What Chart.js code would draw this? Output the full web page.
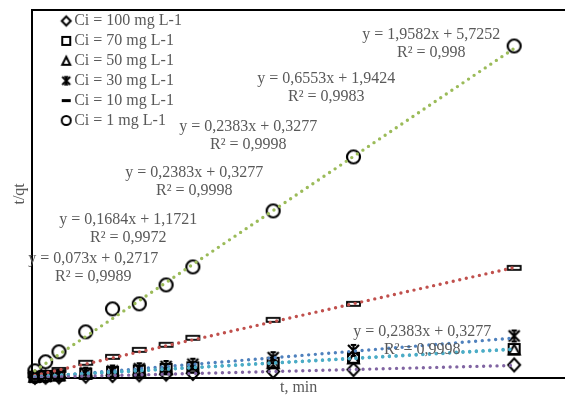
<!DOCTYPE html>
<html>
<head>
<meta charset="utf-8">
<script src="https://cdn.jsdelivr.net/npm/chart.js@4/dist/chart.umd.min.js"></script>
<style>
  body { margin: 0; background: #fff; }
  #chart { display: block; }
</style>
</head>
<body>
<canvas id="chart" width="565" height="399"></canvas>
<script>
// sampling times, min
const times = [1, 5, 10, 20, 30, 40, 50, 60, 90, 120, 180];

const seriesNames = [
  "Ci = 100 mg L-1",
  "Ci = 70 mg L-1",
  "Ci = 50 mg L-1",
  "Ci = 30 mg L-1",
  "Ci = 10 mg L-1",
  "Ci = 1 mg L-1"
];

// t/qt
const ci100 = [0.4, 0.7, 1.0, 1.8, 2.5, 3.2, 4.0, 4.7, 6.9, 8.9, 14.0];
const ci70 = [1.3, 2.0, 2.8, 4.6, 6.3, 8.0, 9.7, 11.4, 16.3, 21.8, 31.3];
const ci50 = [1.1, 1.8, 2.6, 4.3, 5.9, 7.6, 9.2, 11.0, 15.8, 21.0, 30.6];
const ci30 = [0.6, 1.5, 2.7, 5.1, 7.4, 9.9, 12.3, 14.8, 21.9, 29.8, 45.5];
const ci10 = [2.9, 5.4, 8.6, 16.3, 22.8, 30.4, 35.9, 43.5, 63.0, 80.4, 119.6];
const ci1 = [7.6, 17.4, 28.3, 50.0, 75.0, 80.4, 101.0, 120.6, 181.5, 240.2, 360.9];

// linear trendlines, first and last point
const trendT = [1, 180];
const trend100 = [0.35, 13.41];
const trend70 = [1.34, 31.48];
const trend50 = [1.1, 30.9];
const trend30 = [0.57, 43.22];
const trend10 = [2.60, 119.90];
const trend1 = [7.68, 358.20];

// trendline equation labels
const eqLines = [
  "y = 1,9582x + 5,7252",
  "y = 0,6553x + 1,9424",
  "y = 0,2383x + 0,3277",
  "y = 0,2383x + 0,3277",
  "y = 0,1684x + 1,1721",
  "y = 0,073x + 0,2717",
  "y = 0,2383x + 0,3277"
];
const r2Lines = [
  "R\u00b2 = 0,998",
  "R\u00b2 = 0,9983",
  "R\u00b2 = 0,9998",
  "R\u00b2 = 0,9998",
  "R\u00b2 = 0,9972",
  "R\u00b2 = 0,9989",
  "R\u00b2 = 0,9998"
];
// label centres in px from chart area top-left
const eqPos = [[399, 25], [294, 69], [216, 117], [162, 163], [96, 210], [61, 249], [390, 322]];

const serif = "'Liberation Serif', 'Times New Roman', serif";
const textGrey = "#595959";

function makeMarker(kind, w, h, lw) {
  const pad = 3;
  const c = document.createElement("canvas");
  c.width = w + pad * 2;
  c.height = h + pad * 2;
  const ctx = c.getContext("2d");
  ctx.strokeStyle = "#000";
  ctx.fillStyle = "#000";
  ctx.lineWidth = lw;
  const cx = c.width / 2, cy = c.height / 2;
  const hw = w / 2, hh = h / 2;
  ctx.beginPath();
  if (kind === "diamond") {
    ctx.moveTo(cx, cy - hh);
    ctx.lineTo(cx + hw, cy);
    ctx.lineTo(cx, cy + hh);
    ctx.lineTo(cx - hw, cy);
    ctx.closePath();
    ctx.stroke();
  } else if (kind === "square") {
    ctx.strokeRect(cx - hw, cy - hh, w, h);
  } else if (kind === "triangle") {
    ctx.moveTo(cx, cy - hh);
    ctx.lineTo(cx + hw, cy + hh);
    ctx.lineTo(cx - hw, cy + hh);
    ctx.closePath();
    ctx.stroke();
  } else if (kind === "star") {
    ctx.moveTo(cx - hw, cy - hh); ctx.lineTo(cx + hw, cy + hh);
    ctx.moveTo(cx + hw, cy - hh); ctx.lineTo(cx - hw, cy + hh);
    ctx.moveTo(cx, cy - hh); ctx.lineTo(cx, cy + hh);
    ctx.stroke();
    ctx.lineWidth = lw * 0.8;
    ctx.beginPath();
    ctx.moveTo(cx - hw * 0.5, cy - hh); ctx.lineTo(cx + hw * 0.5, cy - hh);
    ctx.moveTo(cx - hw * 0.5, cy + hh); ctx.lineTo(cx + hw * 0.5, cy + hh);
    ctx.stroke();
  } else if (kind === "dash") {
    ctx.strokeRect(cx - hw, cy - hh, w, h);
  } else if (kind === "bar") {
    ctx.fillRect(cx - hw, cy - hh, w, h);
  } else {
    ctx.arc(cx, cy, hw, 0, Math.PI * 2);
    ctx.stroke();
  }
  return c;
}

const dataMarkers = [
  makeMarker("diamond", 12, 13, 2),
  makeMarker("square", 11, 10, 2),
  makeMarker("triangle", 11, 10, 2),
  makeMarker("star", 11, 11, 2.2),
  makeMarker("dash", 13, 4, 1.8),
  makeMarker("circle", 13, 13, 2.2)
];
const legendMarkers = [
  makeMarker("diamond", 9, 9, 2),
  makeMarker("square", 8, 8, 2),
  makeMarker("triangle", 8, 8, 2),
  makeMarker("star", 8, 8, 2),
  makeMarker("bar", 9, 3, 1),
  makeMarker("circle", 9, 9, 2)
];

const seriesData = [ci100, ci70, ci50, ci30, ci10, ci1];
const trendData = [trend100, trend70, trend50, trend30, trend10, trend1];
const trendColors = ["#8064A2", "#4BACC6", "#4BACC6", "#4F81BD", "#C0504D", "#9BBB59"];

const datasets = [];
seriesData.forEach((vals, i) => {
  datasets.push({
    label: seriesNames[i] + " trend",
    data: trendT.map((t, j) => ({ x: t, y: trendData[i][j] })),
    borderColor: trendColors[i],
    borderWidth: 3.4,
    borderDash: [0, 6.7],
    borderCapStyle: "round",
    pointRadius: 0,
    showLine: true,
    fill: false,
    order: 0
  });
});
seriesData.forEach((vals, i) => {
  datasets.push({
    label: seriesNames[i],
    data: times.map((t, j) => ({ x: t, y: vals[j] })),
    showLine: false,
    pointStyle: dataMarkers[i],
    pointRadius: 6,
    clip: false,
    order: 1
  });
});

const framePlugin = {
  id: "frame",
  beforeDatasetsDraw(chart) {
    const { ctx, chartArea } = chart;
    ctx.save();
    ctx.strokeStyle = "#000";
    ctx.lineWidth = 2;
    ctx.beginPath();
    ctx.moveTo(chartArea.left, chartArea.top);
    ctx.lineTo(chartArea.right, chartArea.top);
    ctx.stroke();
    ctx.restore();
  },
  afterDraw(chart) {
    const { ctx, chartArea } = chart;
    ctx.save();
    ctx.font = "16px " + serif;
    ctx.fillStyle = textGrey;
    ctx.textBaseline = "middle";

    // equation labels
    ctx.textAlign = "center";
    eqLines.forEach((txt, i) => {
      const x = chartArea.left + eqPos[i][0];
      const y = chartArea.top + eqPos[i][1];
      ctx.fillText(txt, x, y);
      ctx.fillText(r2Lines[i], x, y + 18);
    });

    // legend
    ctx.textAlign = "left";
    seriesNames.forEach((name, i) => {
      const y = chartArea.top + 11 + i * 19.9;
      const m = legendMarkers[i];
      ctx.drawImage(m, chartArea.left + 34 - m.width / 2, y - m.height / 2);
      ctx.fillText(name, chartArea.left + 42, y);
    });
    ctx.restore();
  }
};

new Chart(document.getElementById("chart"), {
  type: "scatter",
  data: { datasets: datasets },
  options: {
    responsive: false,
    animation: false,
    layout: { autoPadding: false, padding: { top: 10, right: 0, left: 0, bottom: 0 } },
    plugins: {
      legend: { display: false },
      tooltip: { enabled: false }
    },
    scales: {
      x: {
        type: "linear",
        min: 0,
        max: 199,
        ticks: { display: false },
        grid: { display: false, drawTicks: false },
        border: { display: true, color: "#000", width: 2 },
        title: {
          display: true,
          text: "t, min",
          color: textGrey,
          font: { family: serif, size: 16 },
          padding: { top: 0, bottom: 2 }
        }
      },
      y: {
        min: 0,
        max: 400,
        ticks: { display: false },
        grid: { display: false, drawTicks: false },
        border: { display: true, color: "#000", width: 2 },
        title: {
          display: true,
          text: "t/qt",
          color: textGrey,
          font: { family: serif, size: 16 },
          padding: { top: 10, bottom: 3 }
        }
      }
    }
  },
  plugins: [framePlugin]
});
</script>
</body>
</html>
